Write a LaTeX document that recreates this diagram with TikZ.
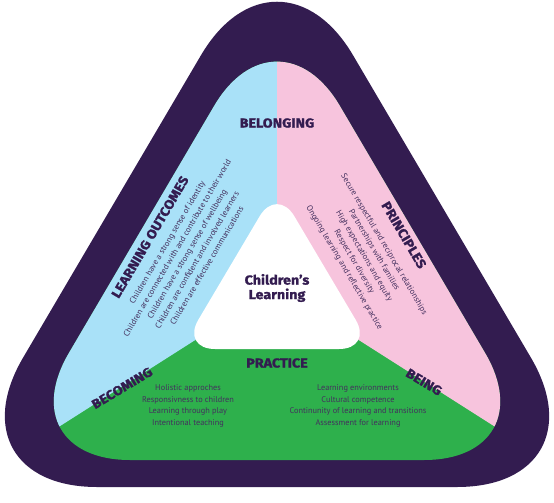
\documentclass[tikz,border=0pt]{standalone}
\usepackage{fontspec}
\setmainfont{PT Sans}
\newfontfamily\headfont[FakeStretch=1.1,BoldFeatures={FakeBold=1.4}]{Fira Sans}
\definecolor{darkpurple}{RGB}{51,28,80}
\definecolor{lightblue}{RGB}{169,225,248}
\definecolor{lightpink}{RGB}{247,196,221}
\definecolor{leafgreen}{RGB}{46,176,76}
\definecolor{listpurple}{RGB}{68,48,94}

\begin{document}
\begin{tikzpicture}[x=1pt,y=-1pt,
        heading/.style={text=darkpurple,font=\headfont\bfseries\fontsize{13}{14}\selectfont,inner sep=0pt},
        listtext/.style={text=listpurple,font=\fontsize{8.3}{11.5}\selectfont,align=center,inner sep=0pt}]
    \useasboundingbox (0,0) rectangle (554,503);
    % outer shape
    \fill[darkpurple,rounded corners=150pt] (277,487) -- (607,487) -- (277,-74) -- (-53,487) -- cycle;
    % inner shape, three parts
    \begin{scope}
        \clip[rounded corners=124pt] (277,460) -- (548,460) -- (277,-1) -- (6,460) -- cycle;
        \fill[leafgreen] (-60,-60) rectangle (620,560);
        \fill[lightblue] (277,288) -- (-163,568) -- (-200,-60) -- (277,-60) -- cycle;
        \fill[lightpink] (277,288) -- (277,-60) -- (750,-60) -- (717,568) -- cycle;
    \end{scope}
    % centre
    \fill[white,rounded corners=34pt] (277,349) -- (373,349) -- (277,187) -- (181,349) -- cycle;
    % headings
    \node[heading] (belonging) at (277,123) {BELONGING};
    \node[heading] (practice) at (277,363) {PRACTICE};
    \node[heading,rotate=59.5] (outcomes) at (150,237) {LEARNING OUTCOMES};
    \node[heading,rotate=-59.5] (principles) at (404,235) {PRINCIPLES};
    \node[heading,rotate=31] (becoming) at (122,388) {BECOMING};
    \node[heading,rotate=-31] (being) at (424,382) {BEING};
    \node[heading,align=center,font=\headfont\bfseries\fontsize{13}{14.5}\selectfont] (learning) at (277,288) {Children’s\\Learning};
    % lists
    \node[listtext,rotate=59.5] (outcomeslist) at (187,254) {Children have a strong sense of identity\\Children are connected with and contribute to their world\\Children have a strong sense of wellbeing\\Children are confident and involved learners\\Children are effective communications};
    \node[listtext,rotate=-59.5] (principleslist) at (364,256) {Secure respectful and reciprocal relationships\\Partnerships with families\\High expectations and equity\\Respect for diversity\\Ongoing learning and reflective practice};
    \node[listtext] (practiceleft) at (188,406) {Holistic approches\\Responsivness to children\\Learning through play\\Intentional teaching};
    \node[listtext] (practiceright) at (358,406) {Learning environments\\Cultural competence\\Continunity of learning and transitions\\Assessment for learning};
\end{tikzpicture}
\end{document}
